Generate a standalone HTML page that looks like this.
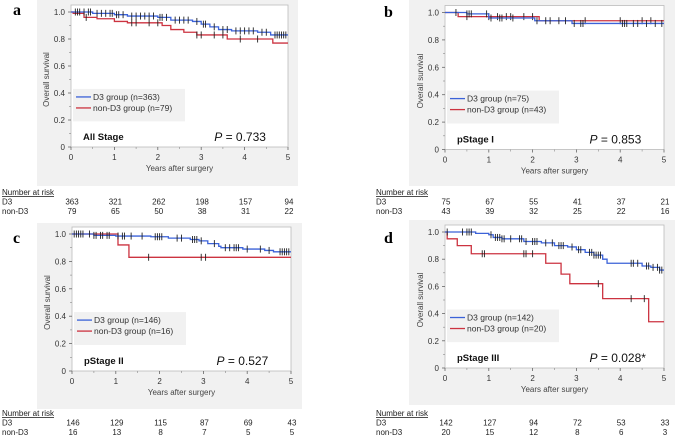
<!DOCTYPE html>
<html><head><meta charset="utf-8"><style>
html,body{margin:0;padding:0;background:#fff;}
svg{display:block;font-family:"Liberation Sans",Arial,sans-serif;}
</style></head><body>
<svg id="fig" width="677" height="437" viewBox="0 0 677 437"></svg>
<script>
// ---- data ----
const timeTicks = [0,1,2,3,4,5];
const survTicks = [0,0.2,0.4,0.6,0.8,1.0];
const survTickLabels = ["0","0.2","0.4","0.6","0.8","1.0"];
// panel a
const aD3Times = [0,0.5,1.0,1.3,2.0,2.3,2.8,3.0,3.2,3.4,3.7,4.3,4.6];
const aD3Surv  = [1.0,0.99,0.98,0.97,0.96,0.94,0.93,0.91,0.89,0.87,0.86,0.85,0.83];
const aD3Cens  = [0.1,0.15,0.2,0.3,0.4,0.45,0.6,0.7,0.8,0.9,0.95,1.05,1.1,1.2,1.4,1.5,1.6,1.7,1.8,1.9,2.05,2.1,2.2,2.4,2.5,2.6,2.7,2.9,3.05,3.1,3.3,3.5,3.6,3.8,3.9,4.0,4.1,4.2,4.4,4.5,4.7,4.75,4.8,4.85,4.9,4.95];
const aNTimes  = [0,0.05,0.3,0.6,1.0,1.3,2.1,2.3,2.6,2.9,3.6,4.65];
const aNSurv   = [1.0,0.99,0.96,0.95,0.93,0.92,0.90,0.87,0.85,0.83,0.80,0.77];
const aNCens   = [0.35,1.4,1.5,1.8,2.0,2.9,3.0,3.3,3.5,3.9,4.3];
const aRiskD3 = [363,321,262,198,157,94];
const aRiskN  = [79,65,50,38,31,22];
// panel b
const bD3Times = [0,0.5,1.0,2.05,2.9];
const bD3Surv  = [1.0,0.99,0.96,0.94,0.92];
const bD3Cens  = [0.25,0.5,0.55,0.6,0.95,1.05,1.25,1.3,1.55,2.1,2.3,2.4,2.6,2.75,2.95,3.1,3.15,4.05,4.1,4.15,4.3,4.4,4.6,4.8,4.95];
const bNTimes  = [0,0.3,2.15];
const bNSurv   = [1.0,0.97,0.94];
const bNCens   = [0.5,1.0,1.2,1.4,1.5,1.8,2.0,3.2,4.0,4.5,4.7];
const bRiskD3 = [75,67,55,41,37,21];
const bRiskN  = [43,39,32,25,22,16];
// panel c
const cD3Times = [0,0.5,1.0,1.8,2.2,2.7,2.9,3.1,3.35,3.4,3.9,4.4,4.6];
const cD3Surv  = [1.0,0.99,0.985,0.98,0.97,0.96,0.95,0.93,0.91,0.90,0.89,0.88,0.87];
const cD3Cens  = [0.05,0.1,0.15,0.2,0.25,0.4,0.5,0.55,0.65,0.7,0.8,0.85,1.05,1.15,1.2,1.35,1.6,1.9,1.95,2.0,2.05,2.4,2.5,2.75,2.8,2.85,2.95,3.25,3.5,3.6,3.7,3.75,3.8,4.0,4.3,4.5,4.75,4.8,4.85,4.9,4.95];
const cNTimes  = [0,1.05,1.3];
const cNSurv   = [1.0,0.92,0.83];
const cNCens   = [1.75,2.95,3.05];
const cRiskD3 = [146,129,115,87,69,43];
const cRiskN  = [16,13,8,7,5,5];
// panel d
const dD3Times = [0,0.7,1.0,1.1,1.3,1.8,2.2,2.5,2.8,3.0,3.2,3.4,3.6,3.7,4.5,4.7,4.9];
const dD3Surv  = [1.0,0.99,0.98,0.96,0.95,0.93,0.92,0.90,0.89,0.87,0.85,0.83,0.80,0.77,0.75,0.74,0.72];
const dD3Cens  = [0.05,0.4,0.5,0.55,0.6,1.05,1.15,1.2,1.25,1.3,1.35,1.5,1.7,1.75,1.85,2.0,2.05,2.1,2.3,2.45,2.6,2.65,2.7,2.9,3.05,3.1,3.3,3.35,3.4,3.45,3.5,3.55,4.25,4.3,4.4,4.6,4.65,4.75,4.85,4.9,4.95];
const dNTimes  = [0,0.05,0.28,0.6,2.3,2.65,2.85,3.6,4.65];
const dNSurv   = [1.0,0.95,0.90,0.84,0.77,0.69,0.62,0.51,0.34];
const dNCens   = [0.85,0.9,1.8,1.85,2.0,3.5,4.25,4.55];
const dRiskD3 = [142,127,94,72,53,33];
const dRiskN  = [20,15,12,8,6,3];

const NS='http://www.w3.org/2000/svg';
const svg=document.getElementById('fig');
function mk(tag,attrs,parent,text){const e=document.createElementNS(NS,tag);for(const k in attrs)e.setAttribute(k,attrs[k]);if(text!==undefined)e.textContent=text;(parent||svg).appendChild(e);return e;}

function panel(cfg){
  const g=mk('g',{});
  
  
  const X=t=>cfg.x0+(cfg.x5-cfg.x0)*t/5;
  const Y=s=>cfg.y0+(cfg.y1-cfg.y0)*s;
  const bg=mk('rect',{x:cfg.bx,y:cfg.by,width:cfg.bw,height:cfg.bh,fill:'#f1f1f1'},g);
  
  
  const pa=mk('rect',{x:cfg.x0,y:cfg.y1-7,width:cfg.x5-cfg.x0,height:cfg.y0-cfg.y1+7,fill:'#fff',stroke:'#bbb','stroke-width':0.8},g);
  
  
  const lt=mk('text',{x:cfg.lx,y:cfg.ly,'font-family':'Liberation Serif,serif','font-weight':'bold','font-size':16},g,cfg.letter);
  
  
  // y ticks
  survTicks.forEach((s,i)=>{
    mk('line',{x1:cfg.x0-3,x2:cfg.x0,y1:Y(s),y2:Y(s),stroke:'#666','stroke-width':0.8},g);
    const t=mk('text',{x:cfg.x0-6,y:Y(s)+3,'font-size':8,'text-anchor':'end',fill:'#333'},g,survTickLabels[i]);
    
    
  });
  for(let s=0.1;s<1;s+=0.2) mk('line',{x1:cfg.x0-2,x2:cfg.x0,y1:Y(s),y2:Y(s),stroke:'#888','stroke-width':0.6},g);
  timeTicks.forEach(t=>{
    mk('line',{x1:X(t),x2:X(t),y1:cfg.y0,y2:cfg.y0+3,stroke:'#666','stroke-width':0.8},g);
    const tl=mk('text',{x:X(t),y:cfg.y0+13,'font-size':8,'text-anchor':'middle',fill:'#333'},g,String(t));
    
    
  });
  for(let t=0.5;t<5;t+=1) mk('line',{x1:X(t),x2:X(t),y1:cfg.y0,y2:cfg.y0+2,stroke:'#888','stroke-width':0.6},g);
  const xt=mk('text',{x:(cfg.x0+cfg.x5)/2,y:cfg.y0+24,'font-size':8,'text-anchor':'middle',fill:'#444'},g,'Years after surgery');
  
  
  const yc=(cfg.y0+cfg.y1)/2;
  const yt=mk('text',{x:cfg.x0-22,y:yc,'font-size':8,'text-anchor':'middle',fill:'#444',transform:`rotate(-90 ${cfg.x0-22} ${yc})`},g,'Overall survival');
  
  
  // series
  function series(times,surv,cens,color,name){
    let d=`M${X(times[0])},${Y(surv[0])}`;
    for(let i=1;i<times.length;i++){d+=`H${X(times[i])}V${Y(surv[i])}`;}
    d+=`H${X(5)}`;
    const p=mk('path',{d:d,fill:'none',stroke:color,'stroke-width':1.3},g);
    
    
    cens.forEach(t=>{
      let s=surv[0];for(let i=0;i<times.length;i++){if(times[i]<=t)s=surv[i];}
      const c=mk('line',{x1:X(t),x2:X(t),y1:Y(s)-3.5,y2:Y(s)+3.5,stroke:'#222','stroke-width':0.9},g);
      
      
    });
  }
  series(cfg.nT,cfg.nS,cfg.nC,'#cc3340','non-d3');
  series(cfg.dT,cfg.dS,cfg.dC,'#3b62d8','d3');
  // legend
  const lx=cfg.x0+2, ly=Y(0.43);
  const lg=mk('g',{},g);
  
  
  mk('rect',{x:lx,y:ly,width:cfg.lw,height:Y(0.19)-ly,fill:'#f1f1f1'},lg);
  mk('line',{x1:lx+3,x2:lx+18,y1:ly+8,y2:ly+8,stroke:'#3b62d8','stroke-width':1.3},lg);
  const l1=mk('text',{x:lx+20,y:ly+11,'font-size':8.5,fill:'#333'},lg,`D3 group (n=${cfg.nD})`);
  
  
  mk('line',{x1:lx+3,x2:lx+18,y1:ly+19,y2:ly+19,stroke:'#cc3340','stroke-width':1.3},lg);
  const l2=mk('text',{x:lx+20,y:ly+22,'font-size':8.5,fill:'#333'},lg,`non-D3 group (n=${cfg.nN})`);
  
  
  const st=mk('text',{x:cfg.x0+12,y:Y(0.08)+4,'font-size':9.5,'font-weight':'bold',fill:'#111'},g,cfg.stage);
  
  
  const pv=mk('text',{x:X(3.3),y:Y(0.08)+5,'font-size':12,fill:'#111'},g);
  
  
  mk('tspan',{'font-style':'italic'},pv,'P');
  mk('tspan',{},pv,' = '+cfg.p);
  // risk table
  const rt=mk('g',{},g);
  
  
  const h=mk('text',{x:cfg.rx,y:cfg.ry,'font-size':8,fill:'#222','text-decoration':'underline'},rt,'Number at risk');
  
  
  mk('text',{x:cfg.rx,y:cfg.ry+9.5,'font-size':8,fill:'#222'},rt,'D3');
  mk('text',{x:cfg.rx,y:cfg.ry+19,'font-size':8,fill:'#222'},rt,'non-D3');
  timeTicks.forEach((t,i)=>{
    mk('text',{x:X(t)+1,y:cfg.ry+9.5,'font-size':8,fill:'#222','text-anchor':'middle'},rt,String(cfg.rD[i]));
    mk('text',{x:X(t)+1,y:cfg.ry+19,'font-size':8,fill:'#222','text-anchor':'middle'},rt,String(cfg.rN[i]));
  });
}

panel({letter:'a',bx:37,by:0,bw:261,bh:186,x0:71,x5:288,y1:12,y0:147,lx:13,ly:15,lw:112,
  dT:aD3Times,dS:aD3Surv,dC:aD3Cens,nT:aNTimes,nS:aNSurv,nC:aNCens,nD:363,nN:79,stage:'All Stage',p:'0.733',
  rx:2,ry:195,rD:aRiskD3,rN:aRiskN});
panel({letter:'b',bx:409,by:0,bw:266,bh:186,x0:445,x5:664,y1:12.5,y0:149.5,lx:384,ly:17,lw:112,
  dT:bD3Times,dS:bD3Surv,dC:bD3Cens,nT:bNTimes,nS:bNSurv,nC:bNCens,nD:75,nN:43,stage:'pStage I',p:'0.853',
  rx:376,ry:195,rD:bRiskD3,rN:bRiskN});
panel({letter:'c',bx:37,by:223,bw:265,bh:186,x0:72,x5:291,y1:234,y0:371,lx:13,ly:243,lw:112,
  dT:cD3Times,dS:cD3Surv,dC:cD3Cens,nT:cNTimes,nS:cNSurv,nC:cNCens,nD:146,nN:16,stage:'pStage II',p:'0.527',
  rx:2,ry:416,rD:cRiskD3,rN:cRiskN});
panel({letter:'d',bx:409,by:220,bw:266,bh:185,x0:445,x5:664,y1:232,y0:368,lx:384,ly:243,lw:112,
  dT:dD3Times,dS:dD3Surv,dC:dD3Cens,nT:dNTimes,nS:dNSurv,nC:dNCens,nD:142,nN:20,stage:'pStage III',p:'0.028*',
  rx:376,ry:416,rD:dRiskD3,rN:dRiskN});
</script>
</body></html>
